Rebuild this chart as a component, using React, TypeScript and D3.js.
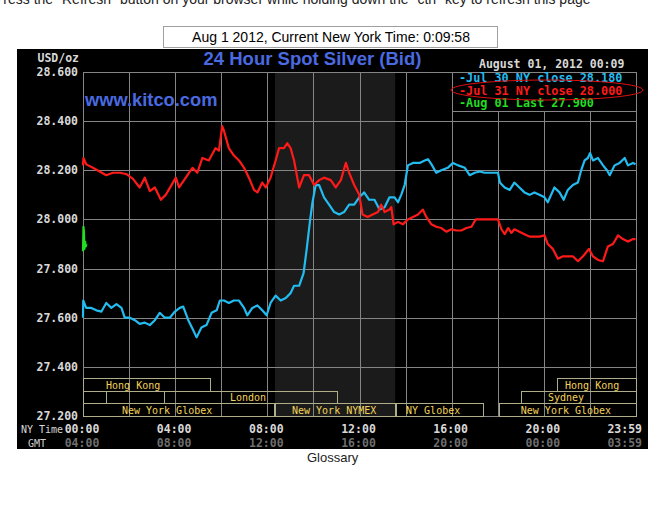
import React from 'react';
import * as d3 from 'd3';

// ---- data ----
const yTicks = [28.6, 28.4, 28.2, 28.0, 27.8, 27.6, 27.4, 27.2];
const xTickHours = [0, 4, 8, 12, 16, 20, 24];
const nyTimeLabels = ['00:00', '04:00', '08:00', '12:00', '16:00', '20:00', '23:59'];
const gmtLabels = ['04:00', '08:00', '12:00', '16:00', '20:00', '00:00', '03:59'];
const gridHours = [0, 2, 4, 6, 8, 10, 12, 14, 16, 18, 20, 22, 24];
const nymexHours = [8.33, 13.55];

const legendLabels = ['-Jul 30 NY close 28.180', '-Jul 31 NY close 28.000', '-Aug 01 Last 27.900'];

// [hour, price]
const jul30: [number, number][] = [
  [0, 27.6], [0.01, 27.67], [0.14, 27.64], [0.36, 27.64], [0.58, 27.63], [0.8, 27.625], [1.01, 27.66],
  [1.23, 27.64], [1.45, 27.655], [1.67, 27.64], [1.81, 27.6], [2.03, 27.6], [2.25, 27.59], [2.46, 27.575],
  [2.68, 27.58], [2.9, 27.57], [3.12, 27.59], [3.33, 27.62], [3.55, 27.6], [3.77, 27.6], [3.99, 27.625],
  [4.2, 27.64], [4.35, 27.645], [4.57, 27.59], [4.78, 27.55], [4.93, 27.52], [5.14, 27.56], [5.36, 27.57],
  [5.58, 27.62], [5.8, 27.63], [5.94, 27.67], [6.12, 27.67], [6.33, 27.66], [6.55, 27.67], [6.77, 27.67],
  [6.99, 27.64], [7.13, 27.61], [7.35, 27.64], [7.57, 27.65], [7.78, 27.63], [7.97, 27.61], [8.14, 27.66],
  [8.36, 27.69], [8.58, 27.67], [8.8, 27.68], [9.01, 27.7], [9.16, 27.73], [9.38, 27.73], [9.57, 27.78],
  [9.71, 27.88], [9.86, 28.0], [9.96, 28.07], [10.1, 28.14], [10.25, 28.14], [10.46, 28.09], [10.68, 28.06],
  [10.9, 28.03], [11.12, 28.02], [11.33, 28.03], [11.55, 28.06], [11.77, 28.06], [11.99, 28.09], [12.2, 28.11],
  [12.42, 28.08], [12.65, 28.08], [12.87, 28.04], [13.09, 28.05], [13.3, 28.09], [13.52, 28.09], [13.67, 28.07],
  [13.81, 28.1], [13.96, 28.14], [14.1, 28.22], [14.32, 28.23], [14.61, 28.23], [14.83, 28.24], [14.97, 28.245],
  [15.12, 28.225], [15.33, 28.19], [15.55, 28.2], [15.83, 28.21], [16.06, 28.23], [16.28, 28.22], [16.57, 28.21],
  [16.78, 28.18], [17.0, 28.19], [17.22, 28.195], [17.43, 28.19], [18.01, 28.19], [18.09, 28.15], [18.3, 28.13],
  [18.52, 28.12], [18.72, 28.15], [18.94, 28.13], [19.16, 28.11], [19.38, 28.1], [19.59, 28.11], [19.81, 28.1],
  [20.03, 28.09], [20.17, 28.07], [20.46, 28.13], [20.68, 28.11], [20.86, 28.08], [21.04, 28.12], [21.26, 28.14],
  [21.48, 28.15], [21.62, 28.2], [21.77, 28.24], [21.91, 28.25], [22.01, 28.27], [22.13, 28.24], [22.35, 28.25],
  [22.57, 28.22], [22.74, 28.2], [22.86, 28.18], [23.07, 28.22], [23.29, 28.23], [23.51, 28.25], [23.65, 28.22],
  [23.87, 28.23], [23.98, 28.225],
];

const jul31: [number, number][] = [
  [0, 28.22], [0.02, 28.25], [0.14, 28.224], [0.43, 28.21], [0.72, 28.195], [1.01, 28.18], [1.3, 28.19],
  [1.59, 28.19], [1.87, 28.185], [2.17, 28.165], [2.46, 28.13], [2.68, 28.17], [2.9, 28.115], [3.12, 28.13],
  [3.38, 28.08], [3.59, 28.1], [4.03, 28.17], [4.17, 28.13], [4.46, 28.17], [4.75, 28.21], [4.96, 28.19],
  [5.18, 28.25], [5.46, 28.24], [5.75, 28.29], [5.9, 28.28], [6.04, 28.38], [6.12, 28.36], [6.33, 28.29],
  [6.55, 28.26], [6.77, 28.24], [6.99, 28.21], [7.2, 28.17], [7.42, 28.12], [7.57, 28.11], [7.78, 28.15],
  [7.93, 28.13], [8.14, 28.17], [8.36, 28.24], [8.51, 28.29], [8.72, 28.29], [8.87, 28.31], [9.01, 28.29],
  [9.16, 28.24], [9.38, 28.13], [9.59, 28.18], [9.81, 28.18], [10.03, 28.14], [10.25, 28.16], [10.46, 28.17],
  [10.75, 28.16], [10.97, 28.13], [11.19, 28.16], [11.41, 28.23], [11.55, 28.19], [11.77, 28.14], [11.99, 28.1],
  [12.13, 28.02], [12.35, 28.01], [12.57, 28.02], [12.8, 28.03], [12.94, 28.06], [13.09, 28.03], [13.3, 28.04],
  [13.38, 28.05], [13.48, 27.98], [13.67, 27.99], [13.88, 27.98], [14.1, 28.0], [14.32, 28.01], [14.54, 28.02],
  [14.75, 28.04], [14.9, 28.01], [15.12, 27.98], [15.33, 27.97], [15.55, 27.965], [15.77, 27.95], [15.99, 27.96],
  [16.2, 27.955], [16.42, 27.955], [16.64, 27.965], [16.86, 27.97], [17.04, 28.0], [17.14, 28.0], [18.01, 28.0],
  [18.16, 27.96], [18.3, 27.94], [18.45, 27.965], [18.59, 27.945], [18.72, 27.96], [18.94, 27.95], [19.16, 27.94],
  [19.38, 27.93], [19.59, 27.93], [19.81, 27.93], [20.03, 27.935], [20.17, 27.9], [20.39, 27.88], [20.61, 27.84],
  [20.83, 27.85], [21.04, 27.85], [21.26, 27.85], [21.48, 27.83], [21.7, 27.85], [21.96, 27.88], [22.13, 27.85],
  [22.35, 27.835], [22.57, 27.83], [22.78, 27.89], [23.0, 27.9], [23.22, 27.935], [23.43, 27.92], [23.65, 27.91],
  [23.87, 27.92], [23.98, 27.92],
];

const aug01: [number, number][] = [
  [0, 27.87], [0.02, 27.97], [0.04, 27.95], [0.06, 27.88], [0.09, 27.91], [0.12, 27.89], [0.15, 27.9],
];

// sessions: row, start hour, end hour, label, hour where label text starts
const sessionRows = [0, 0, 1, 1, 1, 1, 2, 2, 2, 2];
const sessionStart = [0, 20.55, 0, 1.0, 3.52, 19.0, 0, 8.33, 13.58, 18.06];
const sessionEnd = [5.51, 24, 1.0, 3.52, 11.02, 24, 8.28, 13.55, 17.36, 24];
const sessionLabels = ['Hong Kong', 'Hong Kong', '', '', 'London', 'Sydney', 'New York Globex', 'New York NYMEX', 'NY Globex', 'New York Globex'];
const sessionLabelAt = [1.0, 20.92, 0, 0, 6.38, 20.18, 1.69, 9.07, 14.02, 19.0];

// ---- styles ----
const MONO = "'DejaVu Sans Mono', 'Liberation Mono', monospace";
const SANS = "'Liberation Sans', Arial, sans-serif";
const BLUE = '#22bcf0';
const RED = '#ff1a1a';
const GREEN = '#22dd22';
const GRID = '#858585';

export default function App() {
  const left = 83, right = 636, top = 72, bottom = 416;
  const x = d3.scaleLinear().domain([0, 24]).range([left, right]);
  const y = d3.scaleLinear().domain([27.2, 28.6]).range([bottom, top]);
  const line = d3.line<[number, number]>().x(d => x(d[0])).y(d => y(d[1]));
  const rowTop = [378, 391, 403.5];
  const rowBottom = [391, 403.5, 416.5];

  return (
    <svg width={663} height={512} style={{ position: 'absolute', left: 0, top: 0 }}>
      <rect x={0} y={0} width={663} height={512} fill="#fff" />
      <text x={-6} y={4} fontFamily={SANS} fontSize={14} fill="#222">
        Press the "Refresh" button on your browser while holding down the "ctrl" key to refresh this page
      </text>
      <rect x={163.5} y={26.5} width={334} height={21} fill="#fff" stroke="#a0a0a0" />
      <text x={331} y={42} textAnchor="middle" fontFamily={SANS} fontSize={14} fill="#000">
        Aug 1 2012, Current New York Time: 0:09:58
      </text>

      <rect x={17} y={49} width={631} height={400} fill="#000" />
      <rect x={x(nymexHours[0])} y={top} width={x(nymexHours[1]) - x(nymexHours[0])} height={bottom - top} fill="#1b1b1b" />

      {gridHours.map(h => (
        <line key={'gx' + h} x1={x(h) + 0.5} x2={x(h) + 0.5} y1={top} y2={bottom} stroke={GRID} strokeWidth={1} shapeRendering="crispEdges" />
      ))}
      {yTicks.map(v => (
        <line key={'gy' + v} x1={left} x2={right} y1={Math.round(y(v)) + 0.5} y2={Math.round(y(v)) + 0.5} stroke={GRID} strokeWidth={1} shapeRendering="crispEdges" />
      ))}

      {/* market sessions */}
      {sessionRows.map((r, i) => (
        <g key={'s' + i}>
          <rect x={Math.round(x(sessionStart[i])) + 0.5} y={rowTop[r]} width={Math.round(x(sessionEnd[i]) - x(sessionStart[i]))} height={rowBottom[r] - rowTop[r]}
            fill="none" stroke="#b0ae88" strokeWidth={1} shapeRendering="crispEdges" />
          {sessionLabels[i] && (
            <text x={x(sessionLabelAt[i])} y={rowBottom[r] - 2.5} fontFamily={MONO} fontSize={10} fill="#f2d35a">{sessionLabels[i]}</text>
          )}
        </g>
      ))}

      {/* series */}
      <path d={line(jul30) || ''} fill="none" stroke={BLUE} strokeWidth={2.2} strokeLinejoin="round" />
      <path d={line(jul31) || ''} fill="none" stroke={RED} strokeWidth={2.2} strokeLinejoin="round" />
      <path d={line(aug01) || ''} fill="none" stroke={GREEN} strokeWidth={2.2} strokeLinejoin="round" />

      {/* y axis */}
      <text x={79} y={62} textAnchor="end" fontFamily={MONO} fontSize={11.5} fontWeight="bold" fill="#d8d8d8">USD/oz</text>
      {yTicks.map(v => (
        <text key={'yl' + v} x={78} y={y(v) + 4} textAnchor="end" fontFamily={MONO} fontSize={11.5} fontWeight="bold" fill="#d8d8d8">
          {d3.format('.3f')(v)}
        </text>
      ))}

      {/* x axis */}
      <text x={21} y={433} fontFamily={MONO} fontSize={10} fill="#d8d8d8">NY Time</text>
      <text x={28} y={447} fontFamily={MONO} fontSize={10} fill="#d0d0d0">GMT</text>
      {xTickHours.map((h, i) => (
        <g key={'xl' + h}>
          <text x={i === xTickHours.length - 1 ? 642 : x(h) - 1} y={433} textAnchor={i === xTickHours.length - 1 ? 'end' : 'middle'} fontFamily={MONO} fontSize={11.5} fontWeight="bold" fill="#d8d8d8">{nyTimeLabels[i]}</text>
          <text x={i === xTickHours.length - 1 ? 642 : x(h) - 1} y={447} textAnchor={i === xTickHours.length - 1 ? 'end' : 'middle'} fontFamily={MONO} fontSize={11.5} fontWeight="bold" fill="#6e6e6e">{gmtLabels[i]}</text>
        </g>
      ))}

      {/* titles */}
      <text x={312.5} y={65} textAnchor="middle" fontFamily={SANS} fontSize={18.5} fontWeight="bold" fill="#4a6ae0">24 Hour Spot Silver (Bid)</text>
      <text x={85} y={106} fontFamily={SANS} fontSize={18.3} fontWeight="bold" fill="#4a6ae0">www.kitco.com</text>
      <text x={479} y={68} fontFamily={MONO} fontSize={11.5} fontWeight="bold" fill="#d8d8d8">August 01, 2012 00:09</text>

      {/* legend */}
      <rect x={x(16) + 0.5} y={top + 0.5} width={right - x(16)} height={39} fill="#000" stroke={GRID} shapeRendering="crispEdges" />
      {legendLabels.map((s, i) => (
        <text key={'lg' + i} x={459} y={82 + i * 12.5} fontFamily={MONO} fontSize={11.8} fontWeight="bold" fill={[BLUE, RED, GREEN][i]}>{s}</text>
      ))}
      <ellipse cx={547} cy={90} rx={96} ry={10} fill="none" stroke="#e01010" strokeWidth={1} />

      <text x={307} y={462} fontFamily={SANS} fontSize={13} fill="#222">Glossary</text>
    </svg>
  );
}
